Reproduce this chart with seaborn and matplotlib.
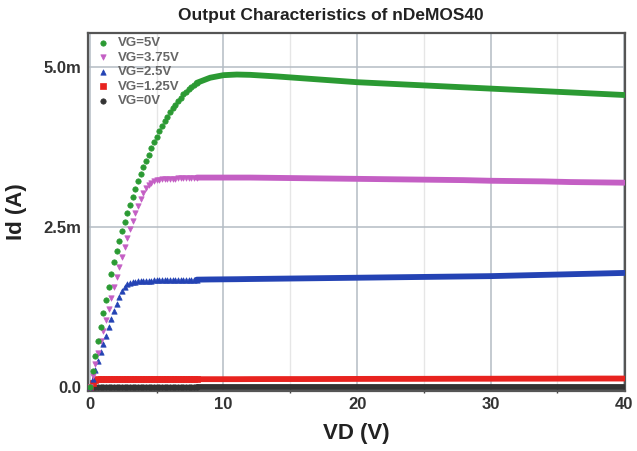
import numpy as np
import pandas as pd
import seaborn as sns
import matplotlib.pyplot as plt

# sweep grid: dense points in the linear region, coarser in saturation
vd_lin = np.round(np.arange(0, 8.01, 0.2), 1)
vd_sat = [8, 9, 10, 11, 12, 14, 16, 18, 20, 22, 24, 26, 28, 30, 32, 34, 36, 38, 40]

# drain current in mA
id_vg5_lin = [0.00, 0.24, 0.48, 0.71, 0.94, 1.15, 1.36, 1.56, 1.76, 1.95, 2.12,
              2.28, 2.43, 2.57, 2.71, 2.84, 2.97, 3.09, 3.21, 3.32, 3.43,
              3.53, 3.63, 3.73, 3.82, 3.91, 3.99, 4.07, 4.15, 4.22, 4.29,
              4.35, 4.41, 4.47, 4.52, 4.57, 4.61, 4.65, 4.69, 4.72, 4.75]
id_vg375_lin = [0.00, 0.17, 0.35, 0.53, 0.71, 0.88, 1.05, 1.22, 1.39, 1.56, 1.72,
                1.88, 2.03, 2.18, 2.32, 2.46, 2.59, 2.71, 2.83, 2.94, 3.03,
                3.10, 3.15, 3.19, 3.21, 3.225, 3.235, 3.24, 3.245, 3.25, 3.25,
                3.255, 3.255, 3.26, 3.26, 3.26, 3.265, 3.265, 3.265, 3.27, 3.27]
id_vg25_lin = [0.00, 0.13, 0.27, 0.40, 0.54, 0.67, 0.80, 0.93, 1.06, 1.18, 1.30,
               1.41, 1.50, 1.56, 1.60, 1.62, 1.635, 1.645, 1.65, 1.655, 1.655,
               1.66, 1.66, 1.66, 1.665, 1.665, 1.665, 1.665, 1.67, 1.67, 1.67,
               1.67, 1.67, 1.67, 1.675, 1.675, 1.675, 1.675, 1.675, 1.675, 1.675]
id_vg125_lin = [0.00, 0.06, 0.10, 0.115, 0.12, 0.12, 0.12, 0.12, 0.12, 0.12, 0.12,
                0.12, 0.12, 0.12, 0.12, 0.12, 0.12, 0.12, 0.12, 0.12, 0.12,
                0.12, 0.12, 0.12, 0.12, 0.12, 0.12, 0.12, 0.12, 0.12, 0.12,
                0.12, 0.12, 0.12, 0.12, 0.12, 0.12, 0.12, 0.12, 0.12, 0.12]
id_vg0_lin = [0.0] * 41

id_vg5_sat = [4.75, 4.83, 4.87, 4.88, 4.875, 4.85, 4.82, 4.79, 4.76, 4.74,
              4.72, 4.70, 4.68, 4.66, 4.64, 4.62, 4.60, 4.58, 4.56]
id_vg375_sat = [3.27, 3.27, 3.27, 3.27, 3.27, 3.265, 3.26, 3.255, 3.25, 3.245,
                3.24, 3.235, 3.23, 3.22, 3.215, 3.21, 3.20, 3.195, 3.19]
id_vg25_sat = [1.675, 1.678, 1.68, 1.682, 1.685, 1.69, 1.695, 1.70, 1.705, 1.71,
               1.715, 1.72, 1.725, 1.73, 1.74, 1.75, 1.76, 1.77, 1.78]
id_vg125_sat = [0.12, 0.12, 0.12, 0.12, 0.121, 0.122, 0.122, 0.123, 0.124, 0.125,
                0.125, 0.126, 0.127, 0.127, 0.128, 0.128, 0.129, 0.13, 0.13]
id_vg0_sat = [0.0] * 19

series = [
    ("VG=5V", id_vg5_lin, id_vg5_sat, "#2b9a33", "o"),
    ("VG=3.75V", id_vg375_lin, id_vg375_sat, "#c45fc4", "v"),
    ("VG=2.5V", id_vg25_lin, id_vg25_sat, "#2443b4", "^"),
    ("VG=1.25V", id_vg125_lin, id_vg125_sat, "#e8231f", "s"),
    ("VG=0V", id_vg0_lin, id_vg0_sat, "#333333", "o"),
]

sns.set_style("white")
plt.rcParams['font.family'] = ['Liberation Sans', 'DejaVu Sans']

fig = plt.figure(figsize=(6.37, 4.51), dpi=100)
ax = fig.add_axes([0.138, 0.133, 0.843, 0.794])

# draw back to front so VG=5V sits on top
for label, lin, sat, color, marker in reversed(series):
    sns.lineplot(x=vd_sat, y=np.array(sat) * 1e-3, ax=ax, color=color,
                 linewidth=4.2, legend=False, zorder=3)
    sns.scatterplot(x=vd_lin, y=np.array(lin) * 1e-3, ax=ax, color=color,
                    marker=marker, s=15, linewidth=0.5, edgecolor=color,
                    label=label, zorder=4)

ax.set_xlim(-0.15, 40.05)
ax.set_ylim(-0.065e-3, 5.53e-3)
ax.set_xticks([0, 10, 20, 30, 40])
ax.set_xticks([5, 15, 25, 35], minor=True)
ax.set_yticks([0, 2.5e-3, 5.0e-3], ["0.0", "2.5m", "5.0m"])
ax.tick_params(axis='both', which='major', direction='inout', length=5,
               width=1.2, color='#444444', labelsize=12, pad=2)
ax.tick_params(axis='x', which='minor', direction='inout', length=3,
               width=1, color='#444444', bottom=True)
for t in ax.get_xticklabels() + ax.get_yticklabels():
    t.set_fontweight('bold')
    t.set_color('#333333')

ax.grid(True, which='major', color='#b4bcc4', linewidth=1.1)
ax.grid(True, which='minor', axis='x', color='#e6e6e6', linewidth=1)
ax.set_axisbelow(True)
for sp in ax.spines.values():
    sp.set_color('#555555')
    sp.set_linewidth(1.6)

ax.set_xlabel("VD (V)", fontsize=16, fontweight='bold', color='#222222', labelpad=8)
ax.set_ylabel("Id (A)", fontsize=16, fontweight='bold', color='#222222', labelpad=12)

handles, labels = ax.get_legend_handles_labels()
order = [labels.index(s[0]) for s in series]
leg = ax.legend([handles[i] for i in order], [labels[i] for i in order],
                loc='upper left', bbox_to_anchor=(-0.005, 1.015), frameon=False,
                fontsize=9.5, handletextpad=0.5, labelspacing=0.18,
                borderaxespad=0.3, markerscale=1.0, handlelength=1.3)
for t in leg.get_texts():
    t.set_fontweight('bold')
    t.set_color('#666666')

fig.text(0.52, 0.966, "Output Characteristics of nDeMOS40", ha='center',
         va='center', fontsize=12.5, fontweight='bold', color='#222222')

fig.savefig("out.png", dpi=100)
